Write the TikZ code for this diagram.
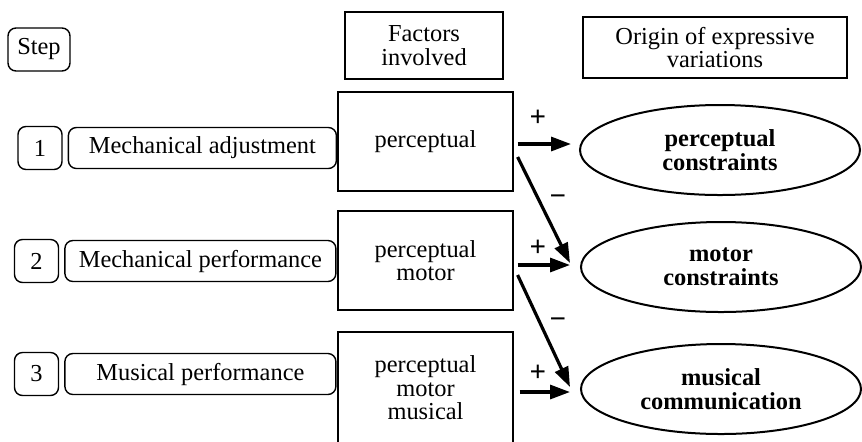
\documentclass[tikz,border=0pt]{standalone}
\usepackage{fontspec}
\setmainfont{Liberation Serif}
\usetikzlibrary{positioning}
\usetikzlibrary{shapes.geometric}
\usetikzlibrary{arrows.meta}
\tikzset{txt/.style={font=\fontsize{12.2}{11.8}\selectfont, align=center, inner sep=0pt}}
\tikzset{num/.style={txt, draw, rounded corners=4pt, line width=0.7pt, minimum width=22pt, minimum height=21.5pt}}
\tikzset{stage/.style={txt, draw, rounded corners=4pt, line width=0.7pt, minimum width=134pt, minimum height=20.5pt}}
\tikzset{hdr/.style={txt, draw, line width=0.6pt}}
\tikzset{fact/.style={txt, draw, line width=0.6pt, minimum width=87.5pt}}
\tikzset{orig/.style={txt, font=\fontsize{12.2}{11.8}\selectfont\bfseries, ellipse, draw, line width=1pt, minimum width=140pt, minimum height=45pt}}
\tikzset{arr/.style={-{Triangle[length=10pt,width=7pt]}, line width=1.6pt}}
\tikzset{sgn/.style={font=\fontsize{14.5}{14}\selectfont\bfseries, inner sep=0pt}}
\begin{document}
\begin{tikzpicture}[x=0.5pt,y=-0.5pt]
\clip (0,0) rectangle (862,441);

% headers
\node (step) [num, minimum width=31pt] at (39,49.5) {Step};
\node (fac) [hdr, minimum width=79pt, minimum height=33.5pt] at (424,45.5) {Factors\\involved};
\node (ori) [hdr, minimum width=132pt, minimum height=30.5pt] at (715,47.5) {Origin of expressive\\variations};

% steps
\node (n1) [num] at (40,148) {1};
\node (s1) [stage, right=2.5pt of n1] {Mechanical adjustment};
\node (n2) [num] at (36.5,261) {2};
\node (s2) [stage, right=2.5pt of n2, minimum width=135.5pt] {Mechanical performance};
\node (n3) [num] at (36.5,374) {3};
\node (s3) [stage, right=2.5pt of n3, minimum width=135.5pt] {Musical performance};

% factors
\node (f1) [fact, minimum height=49.5pt] at (425.5,141.5) {perceptual};
\node (f2) [fact, minimum height=49.5pt] at (425.5,260.5) {perceptual\\motor};
\node (f3) [fact, minimum height=56pt] at (425.5,388) {perceptual\\motor\\musical};

% origins
\node (o1) [orig] at (720,150) {perceptual\\constraints};
\node (o2) [orig] at (721,267) {motor\\constraints};
\node (o3) [orig] at (721,389) {musical\\communication};

\draw[arr] ([xshift=2pt,yshift=-1.25pt]f1.east) -- ([xshift=-4pt,yshift=3pt]o1.west);
\draw[arr] ([xshift=2pt,yshift=-7.75pt]f1.east) -- ([xshift=-5pt,yshift=2pt]o2.west);
\draw[arr] ([xshift=2pt,yshift=-2.25pt]f2.east) -- ([xshift=-5pt,yshift=1pt]o2.west);
\draw[arr] ([xshift=2pt,yshift=-7.25pt]f2.east) -- ([xshift=-5pt,yshift=1pt]o3.west);
\draw[arr] ([xshift=3pt,yshift=-2pt]f3.east) -- ([xshift=-5pt,yshift=-1.5pt]o3.west);

\node (p1) [sgn] at (538,118) {+};
\node (m1) [sgn] at (558,200) {−};
\node (p2) [sgn] at (538,248) {+};
\node (m2) [sgn] at (558,323) {−};
\node (p3) [sgn] at (538,373) {+};
\end{tikzpicture}
\end{document}
